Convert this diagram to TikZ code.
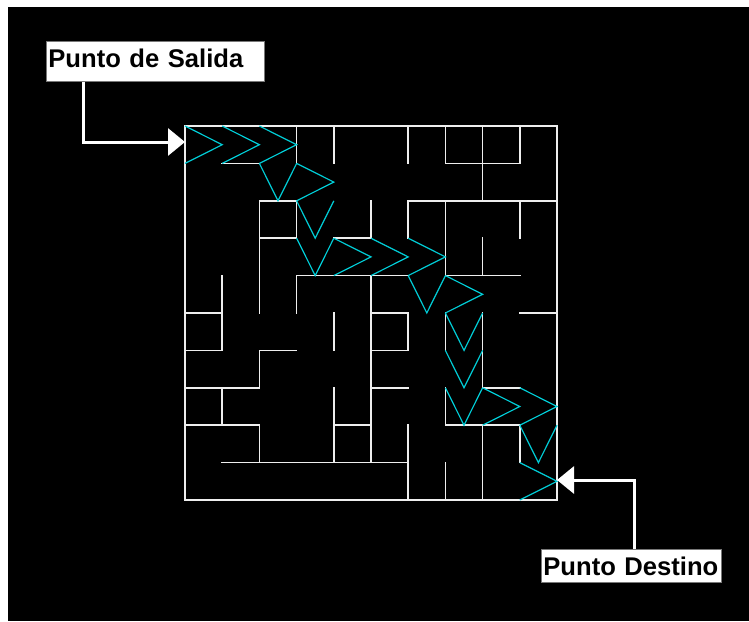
\documentclass[tikz,border=0pt]{standalone}
\usepackage{fontspec}
\setmainfont{Liberation Sans}
\usetikzlibrary{arrows.meta,calc}
\definecolor{wallc}{RGB}{238,238,238}
\definecolor{pathc}{RGB}{0,205,215}
\definecolor{boxedge}{RGB}{120,120,120}
\tikzset{
  wall/.style={draw=wallc, line width=1.6pt, line cap=rect},
  route/.style={draw=pathc, line width=1.2pt, line join=miter},
  labelbox/.style={draw=boxedge, fill=white, line width=0.8pt, inner sep=0pt,
    text height=25.7pt, text depth=14.3pt, align=left,
    font=\fontsize{25.6}{26}\selectfont\bfseries, text=black},
  conn/.style={draw=white, line width=3pt, -{Triangle[length=17pt,width=27pt]}}
}
\begin{document}
\begin{tikzpicture}[x=1pt,y=-1pt]
\useasboundingbox (0,0) rectangle (749,621);
\fill[white] (0,0) rectangle (749,621);
\fill[black] (8,7) rectangle (749,621);

\begin{scope}[shift={(185pt,-126pt)}, x=37.2pt, y=-37.4pt]
  % outer border
  \draw[wall] (0,0) rectangle (10,10);
  % horizontal walls: row / from / to
  \foreach \r/\a/\b in {1/1/2, 1/7/9, 2/2/3, 2/6/10, 3/2/3, 3/4/5, 4/3/6, 4/7/9,
      5/0/1, 5/5/6, 5/9/10, 6/0/1, 6/2/3, 6/5/6, 7/0/2, 7/5/6, 7/8/9,
      8/0/2, 8/4/5, 8/7/9, 9/1/6}
    \draw[wall] (\a,\r) -- (\b,\r);
  % vertical walls: column / from / to
  \foreach \c/\a/\b in {1/4/6, 1/7/8, 2/2/5, 2/6/7, 2/8/9, 3/0/1, 3/2/3, 3/4/5,
      4/0/1, 4/5/6, 4/7/9, 5/2/3, 5/4/9, 6/0/1, 6/2/3, 6/5/6, 6/8/10,
      7/0/1, 7/2/4, 7/5/6, 7/7/8, 7/9/10, 8/0/2, 8/3/4, 8/5/7, 8/8/10,
      9/0/1, 9/2/3, 9/8/9}
    \draw[wall] (\c,\a) -- (\c,\b);
  % route chevrons pointing right
  \foreach \i/\j in {0/0, 1/0, 2/0, 3/1, 4/3, 5/3, 6/3, 7/4, 8/7, 9/7, 9/9}
    \draw[route] (\i,\j) -- ++(1,0.5) -- ++(-1,0.5);
  % route chevrons pointing down
  \foreach \i/\j in {2/1, 3/2, 3/3, 6/4, 7/5, 7/6, 7/7, 9/8}
    \draw[route] (\i,\j) -- ++(0.5,1) -- ++(0.5,-1);
\end{scope}

\node[labelbox, text width=218pt, minimum height=40pt, anchor=north west] (salida) at (46,41) {\hspace*{2pt}Punto de Salida};
\node[labelbox, text width=180pt, minimum height=33pt, anchor=north west,
  text height=26pt, text depth=7pt] (destino) at (541,549) {\hspace*{2pt}Punto Destino};

\coordinate (entry) at (185,142);
\coordinate (exitpt) at (557,480);
\draw[conn] ($(salida.south west)+(37,0)$) |- (entry);
\draw[conn] ($(destino.north west)+(93,0)$) |- (exitpt);
\end{tikzpicture}
\end{document}
